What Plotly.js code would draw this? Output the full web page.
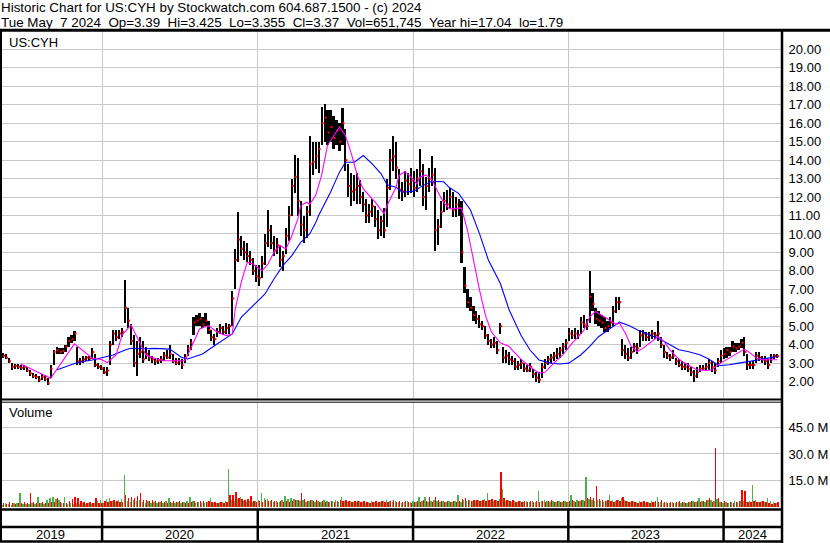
<!DOCTYPE html>
<html><head><meta charset="utf-8">
<script src="https://cdn.plot.ly/plotly-3.0.1.min.js"></script>
<style>html,body{margin:0;padding:0;background:#fff;}#chart{width:830px;height:543px;}</style>
</head><body><div id="chart"></div>
<script>
// ---- data (weekly) ----
const startDate = '2019-05-06';
const hi = [
3.6,3.55,3.5,3.3,3.0,2.95,2.95,2.9,2.9,2.8,
2.6,2.45,2.4,2.3,2.4,2.35,2.2,2.9,3.7,3.9,
3.8,3.8,4.0,4.4,4.5,4.75,3.9,3.3,3.4,3.4,
3.4,3.8,3.5,3.0,2.9,2.8,2.8,4.2,4.8,4.8,
4.8,4.9,7.5,6.0,5.1,4.5,4.2,4.4,4.2,3.9,
3.7,3.4,3.3,3.3,3.4,3.6,3.7,4.0,3.5,3.3,
3.3,3.2,3.5,4.0,4.3,5.5,5.6,5.7,5.5,5.7,
5.3,4.8,4.6,4.9,5.1,5.0,5.2,5.1,6.9,9.2,
11.2,9.9,9.6,9.5,9.1,8.7,8.3,8.3,8.8,10.0,
11.3,10.5,9.9,9.8,9.4,9.1,10.3,11.5,13.0,14.3,
14.1,11.8,11.0,11.5,15.3,15.0,15.0,15.0,16.9,17.05,
16.7,16.7,16.4,16.2,16.0,16.8,15.7,13.8,13.3,13.2,
13.3,12.9,12.3,11.9,11.6,11.9,11.5,11.3,11.0,11.4,
13.0,14.6,15.3,15.0,13.5,12.8,13.4,13.3,13.6,13.4,
13.5,14.6,13.8,13.1,13.6,14.2,13.6,10.8,11.8,12.3,
12.4,12.5,12.3,12.0,11.9,11.8,8.2,7.0,6.6,6.1,
5.8,5.6,5.3,5.0,4.6,4.3,4.4,4.2,5.2,3.9,
3.7,3.6,3.4,3.3,3.1,3.2,3.0,2.9,3.0,2.7,
2.5,2.5,3.0,3.2,3.4,3.5,3.6,3.8,3.9,4.1,
4.3,4.9,4.8,4.9,4.8,5.5,5.6,5.4,8.0,6.8,
6.0,5.8,5.6,5.5,5.3,5.5,6.1,6.6,6.6,4.3,
4.0,3.8,3.9,4.1,4.1,4.8,4.8,4.7,4.7,4.8,
4.7,5.26,4.4,4.0,3.6,3.5,3.7,3.3,3.2,3.1,
3.0,3.0,2.8,2.6,2.8,2.9,2.9,3.0,3.2,3.1,
3.0,3.3,3.7,3.8,3.9,3.9,4.2,4.1,4.1,4.3,
4.4,3.5,3.1,3.1,3.6,3.6,3.4,3.4,3.2,3.5,
3.5,3.5];
const lo = [
3.3,3.3,3.2,3.0,2.6,2.7,2.7,2.6,2.65,2.5,
2.3,2.2,2.15,1.95,2.1,2.05,1.8,2.2,2.9,3.5,
3.5,3.5,3.6,3.9,4.1,4.2,2.9,2.9,3.0,3.1,
3.1,3.2,2.8,2.7,2.6,2.4,2.3,2.9,4.0,4.2,
4.3,4.4,5.2,4.9,4.0,2.8,2.3,3.3,3.0,3.2,
3.1,3.0,2.9,2.95,3.0,3.1,3.2,3.2,3.0,2.9,
2.9,2.7,3.0,3.4,3.7,4.5,5.0,5.0,4.9,5.0,
4.6,4.2,4.0,4.4,4.6,4.5,4.6,4.6,5.0,7.0,
8.5,8.8,8.6,8.5,8.3,7.8,7.4,7.2,7.6,8.3,
9.3,9.2,8.8,8.9,8.2,8.0,8.9,9.6,11.0,12.2,
11.0,9.9,9.5,9.8,11.0,13.2,13.5,13.3,14.8,15.0,
14.8,15.0,14.6,14.8,14.5,14.8,13.4,12.0,11.5,11.8,
11.6,11.6,11.2,10.6,10.6,10.9,10.4,9.7,9.9,9.8,
10.4,12.4,13.4,13.0,11.9,11.8,12.0,12.1,12.2,12.0,
12.3,12.6,11.5,11.3,12.3,12.6,9.1,9.4,10.3,11.2,
11.3,11.4,10.9,10.9,11.0,8.4,6.8,6.0,5.8,5.3,
5.1,4.9,4.8,4.3,4.0,3.8,3.8,3.5,4.6,3.0,
3.0,2.9,2.9,2.6,2.6,2.7,2.5,2.5,2.5,2.2,
2.0,1.9,2.2,2.7,2.9,3.0,3.1,3.2,3.3,3.5,
3.7,4.2,4.3,4.3,4.3,4.6,4.9,4.8,5.2,5.8,
5.1,5.0,4.9,4.7,4.7,4.9,5.0,5.7,5.9,3.4,
3.2,3.1,3.2,3.6,3.5,3.9,4.2,4.2,4.2,4.3,
4.3,4.2,3.8,3.3,3.2,3.1,3.2,2.9,2.8,2.6,
2.6,2.5,2.3,2.0,2.2,2.5,2.6,2.6,2.6,2.5,
2.4,2.8,3.0,3.2,3.3,3.4,3.6,3.6,3.7,3.8,
3.4,2.6,2.7,2.7,3.0,3.1,3.0,2.9,2.7,3.0,
3.2,3.3];
const cl = [
3.45,3.4,3.3,3.1,2.8,2.85,2.8,2.75,2.8,2.6,
2.45,2.3,2.25,2.1,2.25,2.15,1.9,2.7,3.6,3.7,
3.6,3.65,3.9,4.2,4.3,4.6,3.1,3.1,3.2,3.3,
3.25,3.6,2.9,2.8,2.7,2.5,2.6,4.0,4.6,4.4,
4.6,4.7,6.0,5.3,4.2,3.0,3.5,3.6,3.2,3.5,
3.3,3.2,3.1,3.15,3.2,3.4,3.3,3.5,3.1,3.0,
3.1,2.9,3.3,3.8,4.1,5.2,5.3,5.4,5.1,5.3,
4.8,4.4,4.3,4.7,4.9,4.7,4.9,5.0,6.5,8.6,
9.7,9.2,9.0,8.8,8.6,8.0,7.7,7.6,8.4,9.5,
10.2,9.5,9.1,9.4,8.6,8.8,9.9,11.0,12.6,13.1,
11.8,10.5,10.2,11.2,13.8,13.9,14.2,14.6,16.0,16.3,
15.5,15.8,15.2,15.6,15.0,16.0,14.0,12.6,12.3,12.4,
12.6,12.0,11.6,11.0,11.2,11.5,10.8,10.2,10.7,10.2,
12.5,14.0,14.2,13.6,12.4,12.3,12.9,12.7,12.9,12.5,
13.0,13.4,12.0,12.6,13.0,13.2,10.2,10.4,11.2,11.8,
11.6,12.0,11.3,11.6,11.4,9.0,7.2,6.3,6.0,5.6,
5.4,5.1,5.0,4.5,4.2,4.0,4.1,3.7,5.0,3.3,
3.4,3.2,3.1,2.8,2.9,3.0,2.7,2.6,2.8,2.4,
2.2,2.1,2.8,3.0,3.2,3.3,3.4,3.5,3.7,3.9,
4.1,4.6,4.5,4.6,4.5,5.2,5.1,5.0,6.6,6.2,
5.4,5.3,5.2,4.9,5.0,5.2,5.8,6.3,6.3,3.7,
3.5,3.3,3.6,3.9,3.8,4.5,4.6,4.4,4.5,4.6,
4.5,4.6,4.0,3.6,3.4,3.3,3.4,3.1,2.9,2.8,
2.8,2.7,2.5,2.3,2.5,2.7,2.7,2.8,3.0,2.8,
2.6,3.1,3.4,3.5,3.7,3.6,3.9,3.8,3.9,4.1,
3.6,2.9,2.9,2.9,3.4,3.3,3.2,3.1,2.9,3.3,
3.4,3.37];
// volume (millions): tallest up-day and down-day bar in each week
const volUp = [
2.0,1.5,2.5,1.8,1.5,2.2,2.6,7.8,2.0,1.8,
2.0,2.5,2.0,5.9,2.5,2.0,4.0,5.0,5.5,4.5,
4.0,2.5,5.5,2.0,2.5,2.0,2.5,2.0,2.5,2.0,
2.5,2.0,2.5,3.5,4.0,2.5,4.5,5.0,3.5,3.0,
4.0,4.5,18.3,3.5,3.0,4.0,3.5,4.0,3.0,2.5,
3.5,2.5,3.0,2.5,3.0,2.5,3.5,5.0,2.5,2.5,
3.0,2.5,3.0,3.5,6.0,3.5,2.5,3.0,2.5,2.5,
3.0,5.0,2.5,2.5,3.0,3.0,3.5,21.3,4.0,3.5,
4.5,6.0,3.5,3.0,3.5,3.0,3.5,4.0,7.8,5.0,
4.5,3.5,3.0,3.5,3.0,4.0,6.3,4.5,5.0,4.5,
4.0,3.5,4.0,3.0,3.5,4.0,3.0,3.5,3.0,4.0,
3.5,3.0,3.5,4.0,3.0,6.0,3.5,3.0,3.5,3.0,
3.0,3.5,3.0,2.5,3.0,3.5,3.0,2.5,3.0,3.5,
4.0,3.5,3.0,3.5,3.0,2.5,3.0,3.5,3.0,3.5,
3.0,6.0,3.5,6.0,3.0,3.5,4.0,3.5,3.0,3.5,
3.0,3.5,3.0,3.5,7.0,3.0,4.0,3.5,4.0,3.5,
3.5,4.0,3.5,4.5,7.8,4.0,3.5,4.0,4.5,10.0,
3.5,4.0,3.0,3.5,3.0,3.5,3.0,3.5,3.0,3.5,
3.0,8.9,3.5,4.0,3.5,3.0,3.5,3.0,3.5,3.0,
3.5,3.0,7.0,3.5,4.0,3.5,4.0,17.0,4.5,4.0,
3.5,4.0,3.5,3.0,3.5,7.0,4.0,3.5,4.0,5.0,
4.0,3.5,3.0,3.5,3.0,3.5,3.0,2.5,3.0,3.5,
3.0,6.0,3.0,2.5,3.0,2.5,3.0,2.5,3.0,2.5,
3.0,2.5,3.0,3.5,3.0,5.0,3.5,3.0,4.0,4.0,
3.5,4.5,3.0,2.5,3.0,2.5,3.0,3.5,3.0,3.5,
3.5,3.0,3.5,12.8,4.0,3.0,3.5,3.0,5.0,3.5,
3.0,2.5];
const volDown = [
2.8,2.5,2.0,3.0,2.4,2.0,2.5,2.2,3.0,2.6,
7.8,3.0,2.5,2.5,3.0,2.3,2.5,3.0,3.0,5.0,
3.0,2.5,2.5,3.5,4.5,6.0,5.0,3.5,3.0,2.5,
3.0,2.5,5.0,2.5,2.5,3.5,3.0,3.5,4.0,3.5,
3.0,3.0,7.0,5.0,5.5,5.0,6.5,7.8,4.0,4.3,
3.5,4.0,3.5,3.0,3.5,3.0,2.5,3.0,3.5,3.0,
3.5,3.0,2.5,2.5,3.0,3.5,3.0,3.5,3.5,3.0,
3.5,3.0,3.0,2.5,3.0,2.5,3.0,7.0,7.0,8.8,
5.0,4.5,4.0,4.5,6.5,3.5,3.0,3.5,3.0,4.0,
3.5,4.0,3.5,3.0,3.5,3.0,3.5,3.0,3.5,4.0,
4.0,7.8,4.5,3.5,4.0,3.5,4.0,3.0,3.5,3.0,
3.0,3.5,3.0,3.5,4.0,3.5,4.0,3.5,3.0,3.5,
3.5,3.0,3.5,3.0,2.5,3.0,3.5,3.0,3.5,3.0,
3.0,3.5,4.0,3.0,3.5,3.0,3.5,3.0,2.5,3.0,
3.5,3.0,4.0,3.5,5.5,3.0,6.0,4.0,3.5,3.0,
3.5,3.0,3.5,3.0,3.5,4.5,5.0,4.0,3.5,4.0,
4.0,3.5,4.0,3.5,4.0,4.5,4.0,3.5,20.0,5.0,
4.0,3.5,4.0,3.0,3.5,3.0,3.5,3.0,3.5,3.0,
3.5,3.0,3.5,3.0,3.5,4.0,3.0,3.5,3.0,3.5,
3.0,3.5,4.0,3.0,3.5,4.0,3.5,5.0,6.0,5.0,
11.7,4.5,4.0,3.5,4.0,3.5,3.0,4.0,3.5,6.0,
3.5,3.0,3.5,3.0,2.5,3.0,3.5,3.0,2.5,3.0,
3.5,3.0,4.0,3.0,2.5,3.0,2.5,3.0,3.5,3.0,
2.5,3.0,3.5,3.0,3.5,3.0,3.5,4.0,5.0,3.0,
33.1,5.0,3.0,3.5,2.5,3.0,2.5,3.0,3.5,9.6,
9.0,3.0,3.0,3.5,3.0,3.0,3.5,3.0,2.5,2.0,
2.5,3.0];
// moving averages: week index -> value
const maShortWeeks = [7,17,25,31,34,36,39,41,44,46,48,49,52,55,59,62,64,67,70,73,76,78,79,81,83,85,88,90,92,94,96,98,100,101,103,104,106,108,110,112,114,116,118,120,122,125,126,129,130,133,134,136,138,140,141,143,145,147,149,151,153,155,157,159,161,163,165,168,171,172,175,178,181,183,186,189,192,196,198,200,203,207,208,210,212,214,216,219,221,223,225,227,229,232,234,237,239,242,244,247,250,252,254,256,258,261];
const maShortVals = [2.95,2.18,4.04,3.26,3.2,3.03,3.44,4.52,5.07,4.43,3.8,3.44,3.25,3.13,3.13,3.13,3.76,4.85,5.03,4.67,4.49,4.58,5.93,7.38,8.46,8.37,8.0,8.37,9.0,9.37,9.19,9.9,10.8,11.54,11.72,11.6,12.08,13.17,14.8,15.34,15.8,15.34,14.34,13.17,12.44,11.9,11.72,11.09,11.54,12.53,13.17,13.38,13.08,12.71,13.08,13.2,12.96,12.3,11.7,11.36,11.4,11.4,10.2,8.5,7.0,5.6,4.7,4.1,3.9,3.7,3.2,2.8,2.45,2.5,3.0,3.44,4.05,4.75,5.5,5.8,5.5,5.1,5.17,4.63,3.9,3.63,3.81,4.17,4.44,4.17,3.72,3.36,3.09,2.82,2.64,2.6,2.64,3.0,3.18,3.45,3.76,3.54,3.27,3.18,3.18,3.18];
const maLongWeeks = [19,22,26,31,35,38,42,44,49,52,57,61,63,68,72,78,81,86,89,92,95,98,101,104,106,107,111,114,116,119,122,125,128,130,133,135,139,142,145,149,151,154,158,161,164,168,171,175,178,181,185,188,191,195,198,201,205,208,211,214,218,221,225,228,231,235,238,241,242,245,248,252,255,258,261];
const maLongVals = [2.63,2.81,3.03,3.17,3.31,3.44,3.71,3.8,3.78,3.8,3.76,3.31,3.22,3.49,3.94,4.58,5.48,6.3,6.75,7.56,8.28,8.83,9.55,10.0,10.6,11.0,12.26,13.35,13.89,13.89,14.25,13.8,13.26,12.66,12.53,12.26,12.32,12.62,12.85,12.83,12.5,12.2,11.3,10.03,8.59,7.33,5.88,4.5,3.71,3.17,3.0,2.95,3.0,3.44,3.89,4.43,4.89,5.22,5.05,4.81,4.54,4.35,3.99,3.72,3.63,3.45,3.22,2.91,2.87,2.91,3.0,3.09,3.18,3.27,3.36];
const priceTicks = [2,3,4,5,6,7,8,9,10,11,12,13,14,15,16,17,18,19,20];
const priceTickText = ['2.00','3.00','4.00','5.00','6.00','7.00','8.00','9.00','10.00','11.00','12.00','13.00','14.00','15.00','16.00','17.00','18.00','19.00','20.00'];
const volTicks = [15,30,45];
const volTickText = ['15.0 M','30.0 M','45.0 M'];
const yearLabels = ['2019','2020','2021','2022','2023','2024'];
const yearLabelDates = ['2019-09-02','2020-07-02','2021-07-02','2022-07-02','2023-07-02','2024-03-08'];
const yearBounds = ['2020-01-01','2021-01-01','2022-01-01','2023-01-01','2024-01-01'];
const titleLine1 = 'Historic Chart for US:CYH by Stockwatch.com 604.687.1500 - (c) 2024';
const titleLine2 = 'Tue May  7 2024  Op=3.39  Hi=3.425  Lo=3.355  Cl=3.37  Vol=651,745  Year hi=17.04  lo=1.79';

// ---- build ----
const DAY = 86400000;
const t0 = Date.parse(startDate + 'T00:00:00Z');
const wk = hi.map((_, i) => t0 + i * 7 * DAY);
const wkDate = wk.map(t => new Date(t).toISOString().slice(0, 10));
const W = 830, H = 543;
const px = v => v / W, py = v => (H - v) / H;
const nb = s => s.replace(/ /g, '\u00a0');
const FONT = '"Liberation Sans", Arial, sans-serif';

const traces = [
  {type:'bar', x:wkDate, y:hi.map((h,i)=>h-lo[i]), base:lo, width:5.0*DAY,
   marker:{color:'#000', line:{width:0}}, xaxis:'x', yaxis:'y', hoverinfo:'skip'},
  {type:'scatter', mode:'markers', x:wk.map(t=>t+2.4*DAY), y:cl,
   marker:{symbol:'square', size:2, color:'#ff0000', line:{width:0}}, xaxis:'x', yaxis:'y', hoverinfo:'skip'},
  {type:'scatter', mode:'lines', x:maLongWeeks.map(i=>wkDate[i]), y:maLongVals,
   line:{color:'#0000ff', width:1.1}, xaxis:'x', yaxis:'y', hoverinfo:'skip'},
  {type:'scatter', mode:'lines', x:maShortWeeks.map(i=>wkDate[i]), y:maShortVals,
   line:{color:'#ff00ff', width:1.1}, xaxis:'x', yaxis:'y', hoverinfo:'skip'},
  {type:'bar', x:wkDate, y:volUp, width:3.2*DAY, offset:-3.3*DAY,
   marker:{color:'#4cb34c', line:{width:0}}, xaxis:'x2', yaxis:'y2', hoverinfo:'skip'},
  {type:'bar', x:wkDate, y:volDown, width:3.2*DAY, offset:0.1*DAY,
   marker:{color:'#ff0000', line:{width:0}}, xaxis:'x2', yaxis:'y2', hoverinfo:'skip'}
];

const xCommon = {type:'date', domain:[0, px(781)], range:['2019-05-06','2024-05-15'],
  showticklabels:false, ticks:'', showgrid:true, gridcolor:'#c8c8c8', gridwidth:1,
  tick0:'2019-01-01', dtick:'M12', zeroline:false, showline:false, fixedrange:true};
const yCommon = {side:'right', showgrid:true, gridcolor:'#c8c8c8', gridwidth:1, zeroline:false,
  showline:false, ticks:'outside', ticklen:4, tickcolor:'rgba(0,0,0,0)', tickmode:'array',
  tickfont:{family:FONT, size:13, color:'#000'}, fixedrange:true};

const shapes = [
  {type:'line', xref:'paper', yref:'paper', x0:0, x1:1, y0:py(30.3), y1:py(30.3), line:{color:'#000', width:3}},
  {type:'line', xref:'paper', yref:'paper', x0:px(782), x1:px(782), y0:py(30), y1:0, line:{color:'#000', width:2.5}},
  {type:'line', xref:'paper', yref:'paper', x0:px(1), x1:px(1), y0:py(30), y1:py(542), line:{color:'#000', width:2}},
  {type:'line', xref:'paper', yref:'paper', x0:0, x1:px(782), y0:py(399.5), y1:py(399.5), line:{color:'#000', width:2}},
  {type:'line', xref:'paper', yref:'paper', x0:0, x1:px(782), y0:py(402.2), y1:py(402.2), line:{color:'#000', width:1}},
  {type:'line', xref:'paper', yref:'paper', x0:0, x1:px(782), y0:py(509.5), y1:py(509.5), line:{color:'#000', width:2.5}},
  {type:'line', xref:'paper', yref:'paper', x0:0, x1:px(782), y0:py(527), y1:py(527), line:{color:'#000', width:2.5}},
  {type:'line', xref:'paper', yref:'paper', x0:0, x1:px(782), y0:py(541.5), y1:py(541.5), line:{color:'#000', width:2.5}}
].concat(yearBounds.map(d => ({type:'line', xref:'x', yref:'paper', x0:d, x1:d,
  y0:py(509.5), y1:py(541.5), line:{color:'#000', width:2.5}})));

const ann = (text, x, y, opts) => Object.assign({text:nb(text), xref:'paper', yref:'paper', x:x, y:y,
  xanchor:'left', yanchor:'middle', showarrow:false, borderpad:0, font:{family:FONT, size:13, color:'#000'}}, opts||{});
const annotations = [
  ann(titleLine1, px(0), py(7.3), {font:{family:FONT, size:13.4, color:'#000'}}),
  ann(titleLine2, px(0), py(22), {font:{family:FONT, size:13.4, color:'#000'}}),
  ann('US:CYH', px(8), py(42)),
  ann('Volume', px(8), py(413))
].concat(yearLabels.map((t,i) => ann(t, yearLabelDates[i], py(534.5), {xref:'x', xanchor:'center'})));

const layout = {
  width:W, height:H, margin:{l:0, r:0, t:0, b:0}, paper_bgcolor:'#fff', plot_bgcolor:'#fff',
  showlegend:false, barmode:'overlay', bargap:0, font:{family:FONT, size:13, color:'#000'},
  xaxis:Object.assign({}, xCommon, {anchor:'y'}),
  xaxis2:Object.assign({}, xCommon, {anchor:'y2', matches:'x'}),
  yaxis:Object.assign({}, yCommon, {anchor:'x', domain:[py(400), py(31)], range:[1,21],
    tickvals:priceTicks, ticktext:priceTickText}),
  yaxis2:Object.assign({}, yCommon, {anchor:'x2', domain:[py(509), py(402)], range:[-1,59.3],
    tickvals:volTicks, ticktext:volTickText}),
  shapes:shapes, annotations:annotations
};
Plotly.newPlot('chart', traces, layout, {staticPlot:true, displayModeBar:false});
</script></body></html>
